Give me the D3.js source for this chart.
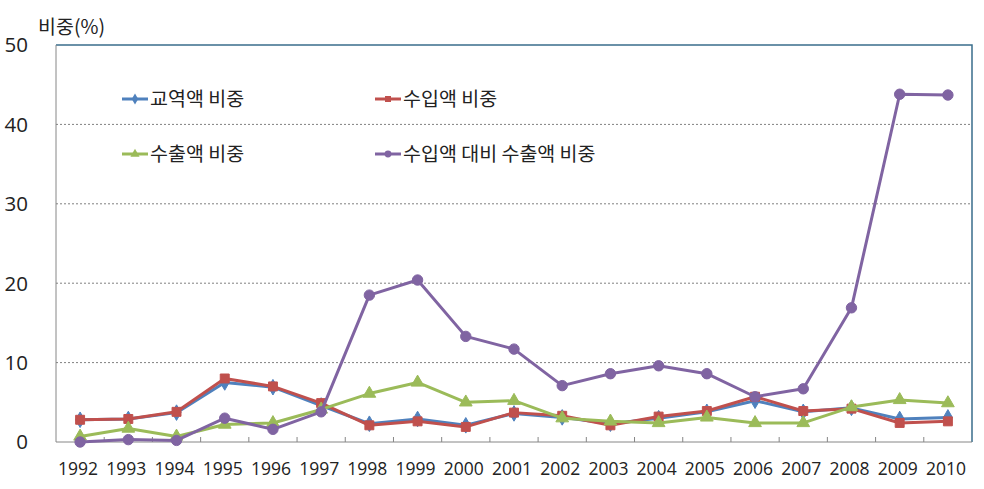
<!DOCTYPE html>
<html>
<head>
<meta charset="utf-8">
<script src="https://cdn.jsdelivr.net/npm/d3@7"></script>
<style>
  body { margin: 0; background: #fff; }
  text { font-family: "Noto Sans CJK KR", "Noto Sans", sans-serif; fill: #222; }
  text.num { font-family: "Open Sans", "Noto Sans", sans-serif; }
</style>
</head>
<body>
<svg id="chart" width="984" height="489"></svg>
<script>
// --- Data ---
const years = ["1992","1993","1994","1995","1996","1997","1998","1999","2000","2001",
  "2002","2003","2004","2005","2006","2007","2008","2009","2010"];
const tradeShare = [2.8, 2.9, 3.7, 7.5, 6.9, 4.6, 2.3, 2.9, 2.1, 3.6, 3.1, 2.3, 3.0, 3.8, 5.2, 3.8, 4.3, 2.9, 3.1];
const importShare = [2.8, 2.9, 3.8, 8.0, 7.0, 4.9, 2.1, 2.6, 1.9, 3.7, 3.3, 2.1, 3.2, 3.9, 5.7, 3.9, 4.2, 2.4, 2.6];
const exportShare = [0.7, 1.7, 0.7, 2.2, 2.4, 4.1, 6.1, 7.5, 5.0, 5.2, 3.0, 2.6, 2.4, 3.1, 2.4, 2.4, 4.4, 5.3, 4.9];
const exportToImport = [0.0, 0.3, 0.2, 3.0, 1.6, 3.8, 18.5, 20.4, 13.3, 11.7, 7.1, 8.6, 9.6, 8.6, 5.7, 6.7, 16.9, 43.8, 43.7];
const yTicks = [0, 10, 20, 30, 40, 50];

const series = [
  { name: "교역액 비중", values: tradeShare, color: "#4F81BD", symbol: d3.symbolDiamond, size: 70 },
  { name: "수입액 비중", values: importShare, color: "#C0504D", symbol: d3.symbolSquare, size: 80 },
  { name: "수출액 비중", values: exportShare, color: "#9BBB59", symbol: d3.symbolTriangle, size: 70 },
  { name: "수입액 대비 수출액 비중", values: exportToImport, color: "#8064A2", symbol: d3.symbolCircle, size: 85 },
];

// --- Layout ---
const svg = d3.select("#chart");
const plotL = 56, plotR = 972, plotT = 45, plotB = 442;

const x = d3.scaleBand().domain(years).range([plotL, plotR]);
const y = d3.scaleLinear().domain([0, 50]).range([plotB, plotT]);

// gridlines
svg.append("g")
  .selectAll("line")
  .data(yTicks.filter((t) => t > 0 && t < 50))
  .join("line")
  .attr("x1", plotL).attr("x2", plotR)
  .attr("y1", (d) => y(d)).attr("y2", (d) => y(d))
  .attr("stroke", "#808080")
  .attr("stroke-width", 1)
  .attr("stroke-dasharray", "2,2");

// frame: top & right
svg.append("path")
  .attr("d", `M${plotL},${y(50)}H${plotR}V${plotB}`)
  .attr("fill", "none")
  .attr("stroke", "#3A6E8C")
  .attr("stroke-width", 1.5);

// left axis
svg.append("line")
  .attr("x1", plotL).attr("x2", plotL)
  .attr("y1", plotT).attr("y2", plotB)
  .attr("stroke", "#868686");

// bottom axis with inward ticks at category boundaries
svg.append("line")
  .attr("x1", plotL).attr("x2", plotR)
  .attr("y1", plotB).attr("y2", plotB)
  .attr("stroke", "#868686");
svg.append("g")
  .selectAll("line")
  .data(years.slice(1))
  .join("line")
  .attr("x1", (d) => x(d)).attr("x2", (d) => x(d))
  .attr("y1", plotB).attr("y2", plotB - 5)
  .attr("stroke", "#868686");

// y tick labels
svg.append("g")
  .selectAll("text")
  .data(yTicks)
  .join("text")
  .attr("class", "num")
  .attr("x", 28)
  .attr("y", (d) => y(d))
  .attr("dy", "0.36em")
  .attr("text-anchor", "end")
  .attr("font-size", 20.5)
  .text((d) => d);

// x labels
svg.append("g")
  .selectAll("text")
  .data(years)
  .join("text")
  .attr("class", "num")
  .attr("x", (d) => x(d) + x.bandwidth() / 2 - 2)
  .attr("y", 469)
  .attr("dy", "0.36em")
  .attr("text-anchor", "middle")
  .attr("font-size", 17.5)
  .text((d) => d);

// y title
svg.append("text")
  .attr("x", 38)
  .attr("y", 27)
  .attr("dy", "0.36em")
  .attr("font-size", 19.5)
  .text("비중(%)");

// --- Lines + markers ---
const cx = (i) => x(years[i]) + x.bandwidth() / 2;
const line = d3.line().x((d, i) => cx(i)).y((d) => y(d));

series.forEach((s) => {
  const g = svg.append("g");
  g.append("path")
    .datum(s.values)
    .attr("fill", "none")
    .attr("stroke", s.color)
    .attr("stroke-width", 3)
    .attr("stroke-linejoin", "round")
    .attr("d", line);
  g.selectAll("path.mk")
    .data(s.values)
    .join("path")
    .attr("class", "mk")
    .attr("d", d3.symbol().type(s.symbol).size(s.size))
    .attr("transform", (d, i) => `translate(${cx(i)},${y(d)})`)
    .attr("fill", s.color)
    .attr("stroke", s.color)
    .attr("stroke-width", 1);
});

// --- Legend ---
const legendPos = [
  { x: 122, y: 99 }, { x: 375, y: 99 },
  { x: 122, y: 154 }, { x: 375, y: 154 },
];
series.forEach((s, i) => {
  const p = legendPos[i];
  const g = svg.append("g").attr("transform", `translate(${p.x},${p.y})`);
  g.append("line")
    .attr("x1", 0).attr("x2", 26)
    .attr("stroke", s.color)
    .attr("stroke-width", 3);
  g.append("path")
    .attr("d", d3.symbol().type(s.symbol).size(36))
    .attr("transform", "translate(13,0)")
    .attr("fill", s.color);
  g.append("text")
    .attr("x", 28)
    .attr("dy", "0.36em")
    .attr("font-size", 19.5)
    .text(s.name);
});
</script>
</body>
</html>
